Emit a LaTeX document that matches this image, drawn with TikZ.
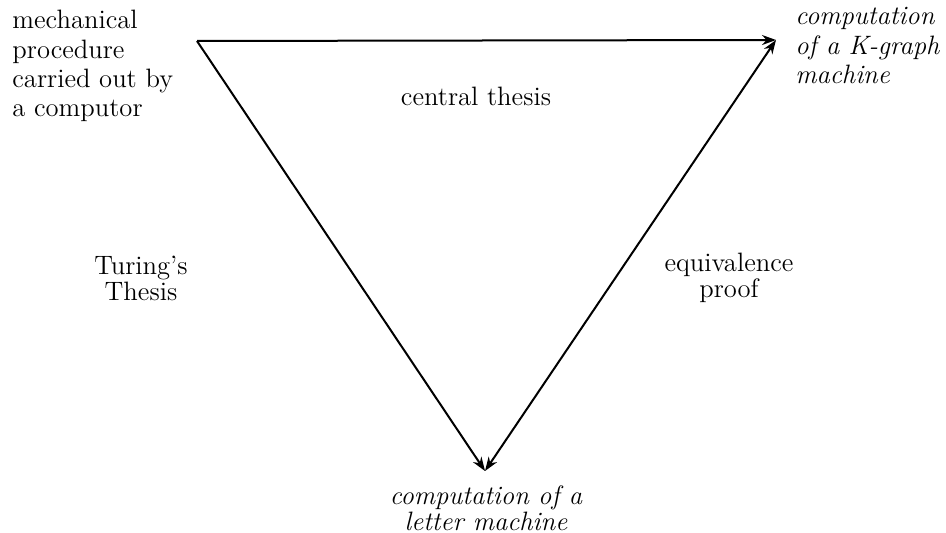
\documentclass[tikz,border=0pt]{standalone}
\usetikzlibrary{arrows.meta}
\begin{document}
\begin{tikzpicture}[x=0.5pt,y=-0.5pt,
  lbl/.style={inner sep=0pt,font=\fontsize{13.3}{13}\selectfont},
  corner/.style={inner sep=0pt,font=\fontsize{13.3}{14.6}\selectfont},
  icorner/.style={inner sep=0pt,font=\fontsize{13.3}{14.8}\selectfont\itshape},
  ilbl/.style={inner sep=0pt,font=\fontsize{13.3}{13}\selectfont\itshape},
  edge/.style={line width=1pt,-{Stealth[length=7pt,width=5pt]}},
  both/.style={line width=1pt,{Stealth[length=7pt,width=5pt]}-{Stealth[length=7pt,width=5pt]}}]
\useasboundingbox (0,0) rectangle (946,533);
\coordinate (A) at (197,41);
\coordinate (B) at (776,40);
\coordinate (C) at (485,471);
\node[corner,anchor=north west,align=left] (mech) at (12,10) {mechanical\\procedure\\carried out by\\a computor};
\node[icorner,anchor=north west,align=left] (kg) at (795,7) {computation\\of a K-graph\\machine};
\node[ilbl,anchor=north,align=center] (lm) at (486,485) {computation of a\\letter machine};
\node[lbl,align=center] (ct) at (476,96) {central thesis};
\node[lbl,align=center] (tt) at (141,278) {Turing's\\Thesis};
\node[lbl,align=center] (ep) at (729,278) {equivalence\\proof};
\draw[edge] (A) -- (B);
\draw[edge] (A) -- (C);
\draw[both] (C) -- (B);
\end{tikzpicture}
\end{document}
